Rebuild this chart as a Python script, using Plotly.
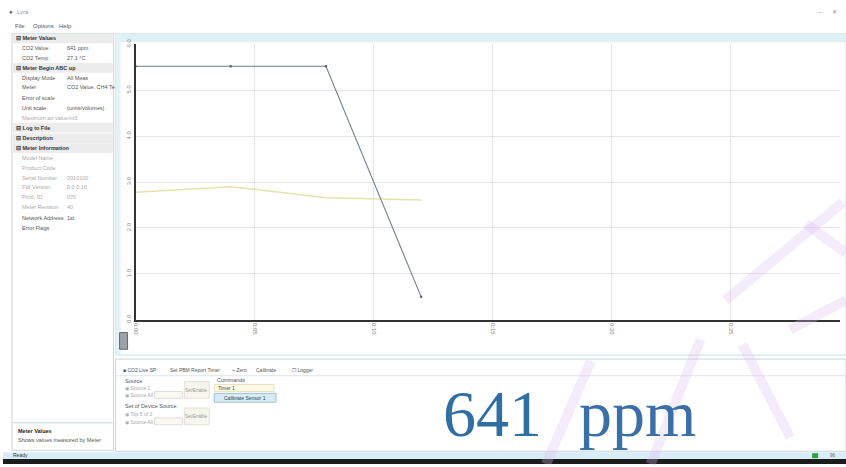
import plotly.graph_objects as go

W, H = 846, 467

# ---- data ----
time_s = [0, 4, 8, 12]
co2_trace = [5.52, 5.52, 5.52, 0.50]
temp_trace = [2.78, 2.90, 2.66, 2.61]
x_tick_vals = [0, 5, 10, 15, 20, 25]
x_tick_text = ["0:00", "0:05", "0:10", "0:15", "0:20", "0:25"]
y_tick_vals = [0, 1, 2, 3, 4, 5, 6]
y_tick_text = ["0.0", "1.0", "2.0", "3.0", "4.0", "5.0", "6.0"]
reading_value = "641"
reading_unit = "ppm"


def px(x):
    return x / W


def py(y):
    return 1 - y / H


fig = go.Figure()
fig.add_trace(go.Scatter(x=time_s, y=temp_trace, mode="lines",
                         line=dict(color="#e6e2ad", width=1.5), showlegend=False))
fig.add_trace(go.Scatter(x=time_s, y=co2_trace, mode="lines+markers",
                         line=dict(color="#71808c", width=1.1),
                         marker=dict(size=2.5, color="#55606a"), showlegend=False))

shapes = []
ann = []


def rect(x0, y0, x1, y1, fill="rgba(0,0,0,0)", line="rgba(0,0,0,0)", lw=1, layer="below"):
    shapes.append(dict(type="rect", xref="paper", yref="paper",
                       x0=px(x0), x1=px(x1), y0=py(y1), y1=py(y0),
                       fillcolor=fill, line=dict(color=line, width=lw), layer=layer))


def hline(x0, x1, y, color="#cfd8dc", lw=1, layer="below"):
    shapes.append(dict(type="line", xref="paper", yref="paper",
                       x0=px(x0), x1=px(x1), y0=py(y), y1=py(y),
                       line=dict(color=color, width=lw), layer=layer))


def text(x, y, s, size=6, color="#666", bold=False, anchor="left", family="Liberation Sans"):
    if bold:
        s = "<b>" + s + "</b>"
    ann.append(dict(x=px(x), y=py(y), xref="paper", yref="paper", text=s,
                    showarrow=False, xanchor=anchor, yanchor="middle",
                    font=dict(size=size, color=color, family=family)))


# title and menu bars
text(4, 6, "●", size=6, color="#556")
text(12, 6, "Lyra", size=6, color="#999")
text(815, 6, "—", size=6, color="#aaa")
text(830, 6, "✕", size=6, color="#888")
text(10, 20, "File", size=6, color="#555")
text(28, 20, "Options", size=6, color="#555")
text(54, 20, "Help", size=6, color="#555")

# left property panel
rect(9, 28, 111, 453, fill="#ffffff", line="#c9d6dc")
rows = [
    ("h", "Meter Values", ""),
    ("n", "CO2 Value", "641 ppm"),
    ("n", "CO2 Temp", "27.1 °C"),
    ("h", "Meter Begin ABC up", ""),
    ("n", "Display Mode", "All Meas"),
    ("n", "Meter", "CO2 Value, CH4 Te"),
    ("n", "Error of scale", ""),
    ("n", "Unit scale", "(units/volumes)"),
    ("g", "Maximum air value/m3", ""),
    ("h", "Log to File", ""),
    ("h", "Description", ""),
    ("h", "Meter Information", ""),
    ("g", "Model Name", ""),
    ("g", "Product Code", ""),
    ("g", "Serial Number", "0010100"),
    ("g", "FW Version", "0.0.0.16"),
    ("g", "Prod. ID", "070"),
    ("g", "Meter Revision", "40"),
    ("n", "Network Address", "1st"),
    ("n", "Error Flags", ""),
]
row_y = [33, 43, 53, 63, 73, 83, 94, 104, 114, 124, 135, 145, 155, 165, 175, 185, 195, 205, 216, 226]
for (kind, lab, val), yy in zip(rows, row_y):
    if kind == "h":
        rect(10, yy - 5, 110, yy + 5, fill="#ececec")
        text(11, yy, "⊟ " + lab, size=5.5, color="#333", bold=True)
    else:
        col = "#555" if kind == "n" else "#aaa"
        text(17, yy, lab, size=5.5, color=col)
        if val:
            text(62, yy, val, size=5.5, color=col)
hline(10, 110, 425, color="#c9d6dc")
text(13, 433, "Meter Values", size=5.5, color="#222", bold=True)
text(13, 443, "Shows values measured by Meter", size=5.5, color="#555")

# chart panel frame
rect(113, 28, 846, 356, fill="rgba(0,0,0,0)", line="#c6e2ea")
rect(113, 28, 846, 37, fill="#dff1f6", line="rgba(0,0,0,0)")
rect(113, 28, 118, 356, fill="#e4f2f6", line="rgba(0,0,0,0)")
rect(117, 333, 125, 350, fill="#9aa4aa", line="#666")

# lower panel
rect(113, 360, 846, 454, fill="#ffffff", line="#c9d6dc")
hline(113, 846, 377, color="#dde4e8")
tabs = [(118, "■ CO2 Live SP"), (166, "Set PBM Report Timer"), (228, "⌁ Zero"), (252, "Calibrate"), (288, "☐ Logger")]
for tx, tl in tabs:
    text(tx, 371, tl, size=5, color="#555")
text(120, 382, "Source", size=5.5, color="#555")
text(120, 389, "◉ Source 1", size=5, color="#aaa")
text(120, 397, "◉ Source All", size=5, color="#aaa")
rect(152, 393, 180, 400, fill="#fafaf2", line="#ddd")
rect(182, 383, 207, 400, fill="#f6f6ee", line="#e2e2d6")
text(194, 392, "Set/Enable", size=4.5, color="#999", anchor="center")
text(120, 408, "Set of Device Source", size=5.5, color="#555")
text(120, 416, "◉ Top 5 of 3", size=5, color="#aaa")
text(120, 424, "◉ Source All", size=5, color="#aaa")
rect(152, 420, 180, 427, fill="#fafaf2", line="#ddd")
rect(182, 410, 207, 427, fill="#f6f6ee", line="#e2e2d6")
text(194, 419, "Set/Enable", size=4.5, color="#999", anchor="center")
text(213, 381, "Commands", size=5.5, color="#555")
rect(212, 386, 272, 393, fill="#fdfbe8", line="#e8e2c0")
text(214, 390, "Timer 1", size=5, color="#444")
rect(212, 395, 274, 404, fill="#d6ebf3", line="#9fbfcd")
text(243, 400, "Calibrate Sensor 1", size=5, color="#345", anchor="center")

# big reading
text(491, 416, reading_value, size=66, color="#2f6fa3", anchor="center", family="Liberation Serif")
text(637, 416, reading_unit, size=66, color="#3b6fa8", anchor="center", family="Liberation Serif")

# status bar
rect(0, 455, 846, 462, fill="#d9edf8")
text(8, 458, "Ready", size=5, color="#333")
rect(812, 456, 818, 461, fill="#2aa43a")
text(828, 458, "96", size=4.5, color="#666")
rect(0, 462, 846, 467, fill="#1c1c1c")

# faint watermark strokes
wm = "rgba(220,190,242,0.3)"
for (x0, y0, x1, y1) in [(843, 200, 725, 300), (806, 222, 846, 252),
                         (700, 340, 650, 467), (742, 345, 790, 440),
                         (590, 362, 545, 467), (790, 330, 846, 300)]:
    shapes.append(dict(type="line", xref="paper", yref="paper",
                       x0=px(x0), x1=px(x1), y0=py(y0), y1=py(y1),
                       line=dict(color=wm, width=10), layer="above"))

fig.update_layout(
    width=W, height=H, autosize=False,
    margin=dict(l=0, r=0, t=0, b=0),
    paper_bgcolor="#ffffff", plot_bgcolor="#ffffff",
    shapes=shapes, annotations=ann,
    xaxis=dict(domain=[px(133), px(840)], range=[0, 29.6],
               tickvals=x_tick_vals, ticktext=x_tick_text, tickangle=90,
               tickfont=dict(size=6, color="#888", family="Liberation Sans"),
               showgrid=True, gridcolor="#e6e6e6", gridwidth=1, zeroline=False,
               showline=True, linecolor="#333", linewidth=2, ticks=""),
    yaxis=dict(domain=[py(320), py(39)], range=[0, 6],
               tickvals=y_tick_vals, ticktext=y_tick_text, tickangle=-90,
               tickfont=dict(size=6, color="#888", family="Liberation Sans"),
               showgrid=True, gridcolor="#e6e6e6", gridwidth=1, zeroline=False,
               showline=True, linecolor="#333", linewidth=2, ticks=""),
)

fig.write_html("out.html", config={"displayModeBar": False},
               post_script="document.body.style.margin='0';document.body.style.overflow='hidden';")
